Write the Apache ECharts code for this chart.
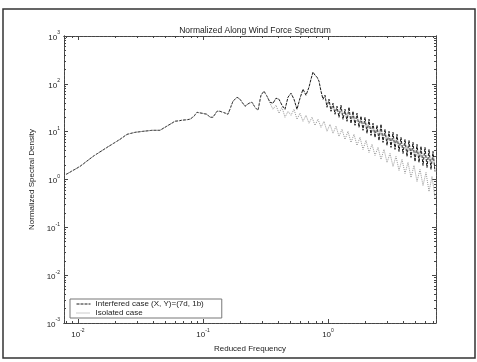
<!DOCTYPE html>
<html>
<head>
<meta charset="utf-8">
<script src="https://cdn.jsdelivr.net/npm/echarts@6/dist/echarts.min.js"></script>
<style>html,body{margin:0;padding:0;background:#fff;}#c{width:477px;height:362px;}</style>
</head>
<body>
<div id="c"></div>
<script>
// log10 of reduced frequency / normalized spectral density
const logFreqCommon = [-2.096,-1.984,-1.88,-1.768,-1.664,-1.608,-1.544,-1.48,-1.408,-1.344,-1.304,-1.264,-1.224,-1.168,-1.104,-1.072,-1.048,-1.008,-0.968,-0.944,-0.92,-0.888,-0.864,-0.84,-0.8,-0.76,-0.728,-0.704,-0.664,-0.632,-0.608,-0.584,-0.56,-0.536,-0.512,-0.488];
const logDensCommon = [0.105,0.273,0.482,0.671,0.839,0.944,0.986,1.007,1.028,1.028,1.091,1.154,1.217,1.238,1.259,1.322,1.405,1.385,1.364,1.301,1.301,1.426,1.426,1.405,1.364,1.636,1.72,1.678,1.531,1.594,1.615,1.51,1.447,1.762,1.846,1.741];

const logFreqInterfered = [-0.464,-0.44,-0.416,-0.392,-0.368,-0.344,-0.32,-0.296,-0.272,-0.248,-0.224,-0.2,-0.176,-0.152,-0.136,-0.12,-0.104,-0.088,-0.072,-0.056,-0.04,-0.024,-0.008,0.008,0.024,0.04,0.056,0.072,0.088,0.104,0.12,0.136,0.152,0.168,0.184,0.2,0.216,0.232,0.248,0.264,0.28,0.296,0.312,0.328,0.344,0.36,0.376,0.392,0.408,0.424,0.44,0.456,0.472,0.488,0.504,0.52,0.536,0.552,0.568,0.584,0.6,0.616,0.632,0.648,0.664,0.68,0.696,0.712,0.728,0.744,0.76,0.776,0.792,0.808,0.824,0.84,0.856];
const logDensInterfered = [1.615,1.594,1.699,1.678,1.552,1.468,1.72,1.804,1.678,1.468,1.699,1.888,1.762,1.93,2.098,2.245,2.182,2.14,2.056,1.846,1.678,1.762,1.51,1.678,1.426,1.594,1.364,1.531,1.301,1.552,1.259,1.468,1.217,1.51,1.175,1.426,1.133,1.385,1.091,1.322,1.028,1.301,0.965,1.259,0.923,1.175,0.881,1.133,0.818,1.154,0.776,1.049,0.713,1.007,0.671,0.986,0.629,0.944,0.587,0.881,0.545,0.839,0.482,0.818,0.461,0.776,0.378,0.734,0.357,0.692,0.294,0.671,0.252,0.629,0.21,0.587,0.168];

const logFreqIsolated = [-0.464,-0.44,-0.416,-0.392,-0.368,-0.344,-0.32,-0.296,-0.272,-0.248,-0.224,-0.2,-0.176,-0.152,-0.128,-0.104,-0.08,-0.056,-0.032,-0.008,0.016,0.04,0.064,0.088,0.112,0.136,0.16,0.184,0.208,0.232,0.256,0.28,0.304,0.328,0.352,0.376,0.4,0.424,0.448,0.472,0.496,0.52,0.544,0.568,0.592,0.616,0.64,0.664,0.688,0.712,0.736,0.76,0.784,0.808,0.832,0.856];
const logDensIsolated = [1.594,1.468,1.552,1.385,1.51,1.301,1.426,1.343,1.468,1.259,1.385,1.217,1.343,1.175,1.301,1.133,1.259,1.091,1.217,1.007,1.154,0.965,1.112,0.902,1.049,0.839,1.007,0.776,0.944,0.713,0.881,0.629,0.818,0.566,0.734,0.503,0.671,0.42,0.629,0.357,0.545,0.273,0.482,0.189,0.42,0.126,0.357,0.042,0.294,-0.042,0.21,-0.126,0.147,-0.252,0.063,-0.378];

const xMajorTicks = [0.01, 0.1, 1];
const xMinorTicks = [0.008,0.009,0.02,0.03,0.04,0.05,0.06,0.07,0.08,0.09,0.2,0.3,0.4,0.5,0.6,0.7,0.8,0.9,2,3,4,5,6,7];
const yMajorTicks = [0.001, 0.01, 0.1, 1, 10, 100, 1000];
const yMinorTicks = [];
[0.001,0.01,0.1,1,10,100].forEach(d => { for (let k = 2; k <= 9; k++) yMinorTicks.push(+(d * k).toPrecision(3)); });

const titleText = 'Normalized Along Wind Force Spectrum';
const xName = 'Reduced Frequency';
const yName = 'Normalized Spectral Density';
const names = ['Interfered case (X, Y)=(7d, 1b)', 'Isolated case'];

const toPairs = (fx, fy) => fx.map((v, i) => [Math.pow(10, v), Math.pow(10, fy[i])]);
const interfered = toPairs(logFreqCommon.concat(logFreqInterfered), logDensCommon.concat(logDensInterfered));
const isolated = toPairs(logFreqCommon.concat(logFreqIsolated), logDensCommon.concat(logDensIsolated));

const xMin = 0.00773, xMax = 7.31, yMin = 0.001, yMax = 1000;
const FONT = 'Liberation Sans, Arial, sans-serif';
function powLabel(v) {
  const e = Math.round(Math.log10(v));
  return '{b|10}{s|' + e + '}';
}
const rich = {
  b: {fontSize: 8, fontFamily: FONT, color: '#222', verticalAlign: 'bottom', lineHeight: 11},
  s: {fontSize: 5, fontFamily: FONT, color: '#222', verticalAlign: 'top', lineHeight: 11}
};
const lineC = '#444';
function xAx(pos, ticks, len, labels) {
  return {
    type: 'log', logBase: 10, min: xMin, max: xMax, position: pos,
    axisLine: {show: true, onZero: false, lineStyle: {color: lineC, width: 1, type: [3,1]}},
    axisTick: {show: true, inside: true, length: len, customValues: ticks, lineStyle: {color: lineC}},
    axisLabel: labels ? {show: true, customValues: xMajorTicks, formatter: powLabel, rich: rich, margin: 5} : {show: false},
    splitLine: {show: false}, minorTick: {show: false},
    name: labels ? xName : '', nameLocation: 'middle', nameGap: 22,
    nameTextStyle: {fontSize: 8, fontFamily: FONT, color: '#222'}
  };
}
function yAx(pos, ticks, len, labels) {
  return {
    type: 'log', logBase: 10, min: yMin, max: yMax, position: pos,
    axisLine: {show: true, onZero: false, lineStyle: {color: lineC, width: 1, type: [3,1]}},
    axisTick: {show: true, inside: true, length: len, customValues: ticks, lineStyle: {color: lineC}},
    axisLabel: labels ? {show: true, customValues: yMajorTicks, formatter: powLabel, rich: rich, margin: 4} : {show: false},
    splitLine: {show: false}, minorTick: {show: false},
    name: labels ? yName : '', nameLocation: 'middle', nameGap: 26, nameRotate: 90,
    nameTextStyle: {fontSize: 8, fontFamily: FONT, color: '#222'}
  };
}

const chart = echarts.init(document.getElementById('c'), null, {renderer: 'canvas'});
chart.setOption({
  animation: false,
  backgroundColor: '#fff',
  title: {text: titleText, left: 250, top: 21, textAlign: 'center',
    textStyle: {fontSize: 8.5, fontWeight: 'normal', fontFamily: FONT, color: '#222'}},
  grid: {left: 64, top: 36, right: 41, bottom: 39, containLabel: false},
  xAxis: [xAx('bottom', xMajorTicks, 4, true), xAx('bottom', xMinorTicks, 2, false),
          xAx('top', xMajorTicks, 4, false), xAx('top', xMinorTicks, 2, false)],
  yAxis: [yAx('left', yMajorTicks, 4, true), yAx('left', yMinorTicks, 2, false),
          yAx('right', yMajorTicks, 4, false), yAx('right', yMinorTicks, 2, false)],
  legend: {
    orient: 'vertical', left: 70, top: 299, itemWidth: 14, itemHeight: 8, itemGap: 1,
    padding: [1, 18, 1, 6], borderColor: '#777', borderWidth: 1, backgroundColor: '#fff',
    itemStyle: {opacity: 0, borderWidth: 0},
    lineStyle: {width: 1},
    textStyle: {fontSize: 8, fontFamily: FONT, color: '#222'},
    data: names
  },
  graphic: [{type: 'rect', shape: {x: 3, y: 9, width: 472, height: 349}, silent: true,
    style: {fill: 'none', stroke: '#333', lineWidth: 1.5}}],
  series: [
    {name: names[0], type: 'line', data: interfered, symbol: 'none', showSymbol: false,
     lineStyle: {color: '#1a1a1a', width: 1, type: [3, 1]}, itemStyle: {color: '#1a1a1a'}, z: 2},
    {name: names[1], type: 'line', data: isolated, symbol: 'none', showSymbol: false,
     lineStyle: {color: '#999', width: 1, type: [1, 1]}, itemStyle: {color: '#999'}, z: 3}
  ]
});
</script>
</body>
</html>
